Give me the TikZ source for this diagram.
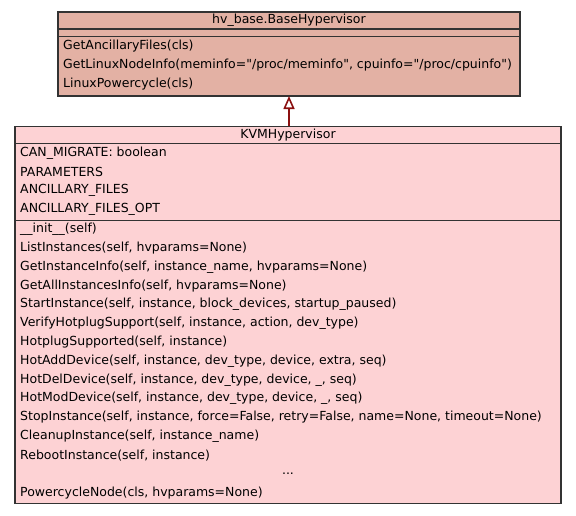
\documentclass[tikz,border=0pt]{standalone}
\usepackage{fontspec}
\setmainfont{DejaVu Sans}[Ligatures=TeXOff]
\usetikzlibrary{arrows.meta}
\definecolor{basefill}{HTML}{E3B1A4}
\definecolor{kvmfill}{HTML}{FDD2D4}
\definecolor{edgegrey}{HTML}{333333}
\definecolor{arrowred}{HTML}{8B1010}
\begin{document}
\begin{tikzpicture}[x=1pt,y=-1pt,
  classbox/.style={draw=edgegrey,line width=1.4pt,inner sep=0pt,outer sep=0pt},
  member/.style={anchor=west,inner sep=0pt,font=\fontsize{12.5}{14}\selectfont},
  ctitle/.style={anchor=center,inner sep=0pt,font=\fontsize{12.5}{14}\selectfont},
  sep/.style={draw=edgegrey,line width=1.4pt},
  inherit/.style={draw=arrowred,line width=1.6pt,-{Triangle[open,length=13pt,width=11pt,fill=white]}}]
\useasboundingbox (0,0) rectangle (576,515);
% base class
\node[classbox,fill=basefill,minimum width=462pt,minimum height=84pt] (base) at (289,54) {};
\node[ctitle] (basetitle) at (289,20.5) {hv\_base.BaseHypervisor};
\draw[sep] (base.west |- 0,29) -- (base.east |- 0,29);
\draw[sep] (base.west |- 0,36.5) -- (base.east |- 0,36.5);
\node[member] (b1) at (63,46.5) {GetAncillaryFiles(cls)};
\node[member] (b2) at (63,65.5) {GetLinuxNodeInfo(meminfo="/proc/meminfo", cpuinfo="/proc/cpuinfo")};
\node[member] (b3) at (63,84.5) {LinuxPowercycle(cls)};
% KVM class
\node[classbox,fill=kvmfill,minimum width=546pt,minimum height=377pt] (kvm) at (288,314.7) {};
\node[ctitle] (kvmtitle) at (288,135) {KVMHypervisor};
\draw[sep] (kvm.west |- 0,143.5) -- (kvm.east |- 0,143.5);
\draw[sep] (kvm.west |- 0,220.5) -- (kvm.east |- 0,220.5);
\node[member] (a1) at (20,153.5) {CAN\_MIGRATE: boolean};
\node[member] (a2) at (20,172) {PARAMETERS};
\node[member] (a3) at (20,190.5) {ANCILLARY\_FILES};
\node[member] (a4) at (20,209.5) {ANCILLARY\_FILES\_OPT};
\node[member] (m1) at (20,229.5) {\_\_init\_\_(self)};
\node[member] (m2) at (20,248.3) {ListInstances(self, hvparams=None)};
\node[member] (m3) at (20,267.1) {GetInstanceInfo(self, instance\_name, hvparams=None)};
\node[member] (m4) at (20,285.9) {GetAllInstancesInfo(self, hvparams=None)};
\node[member] (m5) at (20,304.7) {StartInstance(self, instance, block\_devices, startup\_paused)};
\node[member] (m6) at (20,323.5) {VerifyHotplugSupport(self, instance, action, dev\_type)};
\node[member] (m7) at (20,342.3) {HotplugSupported(self, instance)};
\node[member] (m8) at (20,361.1) {HotAddDevice(self, instance, dev\_type, device, extra, seq)};
\node[member] (m9) at (20,379.9) {HotDelDevice(self, instance, dev\_type, device, \_, seq)};
\node[member] (m10) at (20,398.7) {HotModDevice(self, instance, dev\_type, device, \_, seq)};
\node[member] (m11) at (20,417.5) {StopInstance(self, instance, force=False, retry=False, name=None, timeout=None)};
\node[member] (m12) at (20,436.3) {CleanupInstance(self, instance\_name)};
\node[member] (m13) at (20,455.1) {RebootInstance(self, instance)};
\node[ctitle] (dots) at (288,473.9) {...};
\node[member] (m14) at (20,492.7) {PowercycleNode(cls, hvparams=None)};
% inheritance
\draw[inherit] (kvm.north -| 289,0) -- (base.south -| 289,0);
\end{tikzpicture}
\end{document}
